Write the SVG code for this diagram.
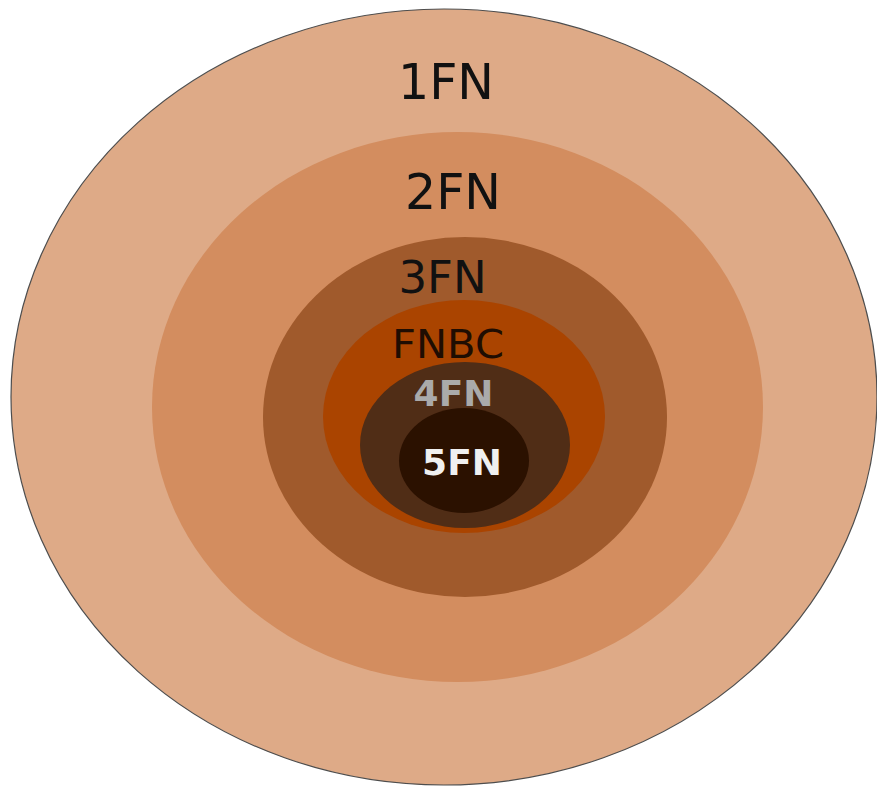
<svg xmlns="http://www.w3.org/2000/svg" width="877" height="789" viewBox="0 0 877 789">
  <style>
    .lbl { font-family: "DejaVu Sans", "Liberation Sans", sans-serif; text-anchor: middle; }
    .dark { fill: #111111; }
    .bold { font-weight: bold; }
  </style>
  <rect x="0" y="0" width="877" height="789" fill="#ffffff"/>
  <g id="n1fn">
    <ellipse cx="444" cy="397" rx="433" ry="388" fill="#deaa87" stroke="#4d4d4d" stroke-width="1.2"/>
    <text class="lbl dark" x="446" y="99" font-size="49">1FN</text>
  </g>
  <g id="n2fn">
    <ellipse cx="457.5" cy="407" rx="305.5" ry="275" fill="#d38d5f"/>
    <text class="lbl dark" x="453" y="209" font-size="49">2FN</text>
  </g>
  <g id="n3fn">
    <ellipse cx="465" cy="417" rx="202" ry="180" fill="#a05a2c"/>
    <text class="lbl dark" x="442.5" y="293" font-size="45">3FN</text>
  </g>
  <g id="nfnbc">
    <ellipse cx="464" cy="416.5" rx="141" ry="116.5" fill="#aa4400"/>
    <text class="lbl" x="448" y="358" font-size="39" fill="#1f0d02" textLength="112" lengthAdjust="spacingAndGlyphs">FNBC</text>
  </g>
  <g id="n4fn">
    <ellipse cx="465" cy="445" rx="105" ry="83" fill="#502d16"/>
    <text class="lbl bold" x="453.5" y="406" font-size="36" fill="#aaaaaa">4FN</text>
  </g>
  <g id="n5fn">
    <ellipse cx="464" cy="460.5" rx="65" ry="52.5" fill="#2b1100"/>
    <text class="lbl bold" x="462" y="475" font-size="36" fill="#f0f0f0">5FN</text>
  </g>
  <g id="connectors"/>
</svg>
